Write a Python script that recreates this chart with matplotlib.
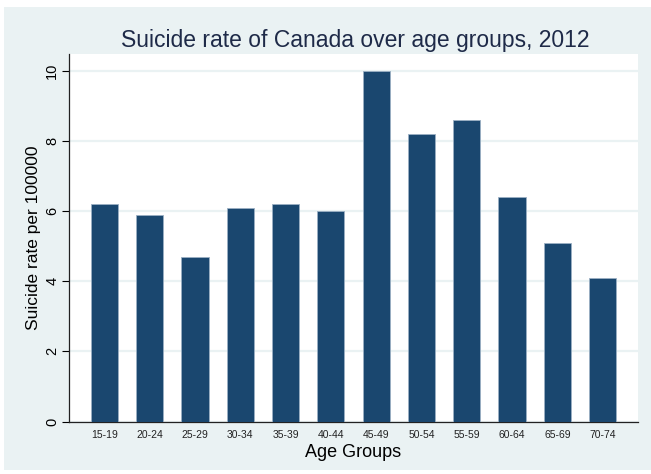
import matplotlib.pyplot as plt
from matplotlib.patches import Rectangle
import numpy as np

age_groups = ["15-19", "20-24", "25-29", "30-34", "35-39", "40-44",
              "45-49", "50-54", "55-59", "60-64", "65-69", "70-74"]
rates = [6.2, 5.9, 4.7, 6.1, 6.2, 6.0, 10.0, 8.2, 8.6, 6.4, 5.1, 4.1]
y_ticks = [0, 2, 4, 6, 8, 10]

plt.rcParams['font.family'] = ['Liberation Sans', 'DejaVu Sans']

W, H = 651, 474
fig = plt.figure(figsize=(W / 100, H / 100), dpi=100, facecolor='white')

# stata-like outer background, behind the axes
fig.patches.append(Rectangle((4 / W, 4 / H), (W - 4) / W, (H - 11) / H,
                             transform=fig.transFigure, facecolor='#eaf2f3',
                             edgecolor='none', zorder=-10))

ax = fig.add_axes([69 / W, 1 - 421.5 / H, (638 - 69) / W, (421.5 - 54) / H])
ax.set_zorder(1)
ax.set_facecolor('white')

x = np.arange(len(age_groups))
ax.bar(x, rates, width=0.6, color='#1a476f', edgecolor='#9bb0c4',
       linewidth=0.6, zorder=3)

ax.set_xlim(-0.78, len(age_groups) - 1 + 0.78)
ax.set_ylim(0, 10.49)
ax.set_yticks(y_ticks)
ax.set_xticks(x)
ax.set_xticklabels(age_groups, fontsize=7.5, color='#222222')
ax.tick_params(axis='x', length=0, pad=6)
ax.tick_params(axis='y', length=5, width=0.8, labelsize=10.5, pad=2,
               labelrotation=90)
for lab in ax.get_yticklabels():
    lab.set_va('center')

ax.grid(axis='y', color='#eaf2f3', linewidth=1.6, zorder=0)
for s in ['top', 'right']:
    ax.spines[s].set_visible(False)
for s in ['left', 'bottom']:
    ax.spines[s].set_linewidth(0.9)
    ax.spines[s].set_color('#222222')

ax.set_ylabel("Suicide rate per 100000", fontsize=12.5, labelpad=3)
ax.set_xlabel("Age Groups", fontsize=13, labelpad=3)

fig.text(355 / W, 1 - 40 / H, "Suicide rate of Canada over age groups, 2012",
         ha='center', va='center', fontsize=16.5, color='#1e2a48')

fig.savefig("out.png", dpi=100, facecolor=fig.get_facecolor())
